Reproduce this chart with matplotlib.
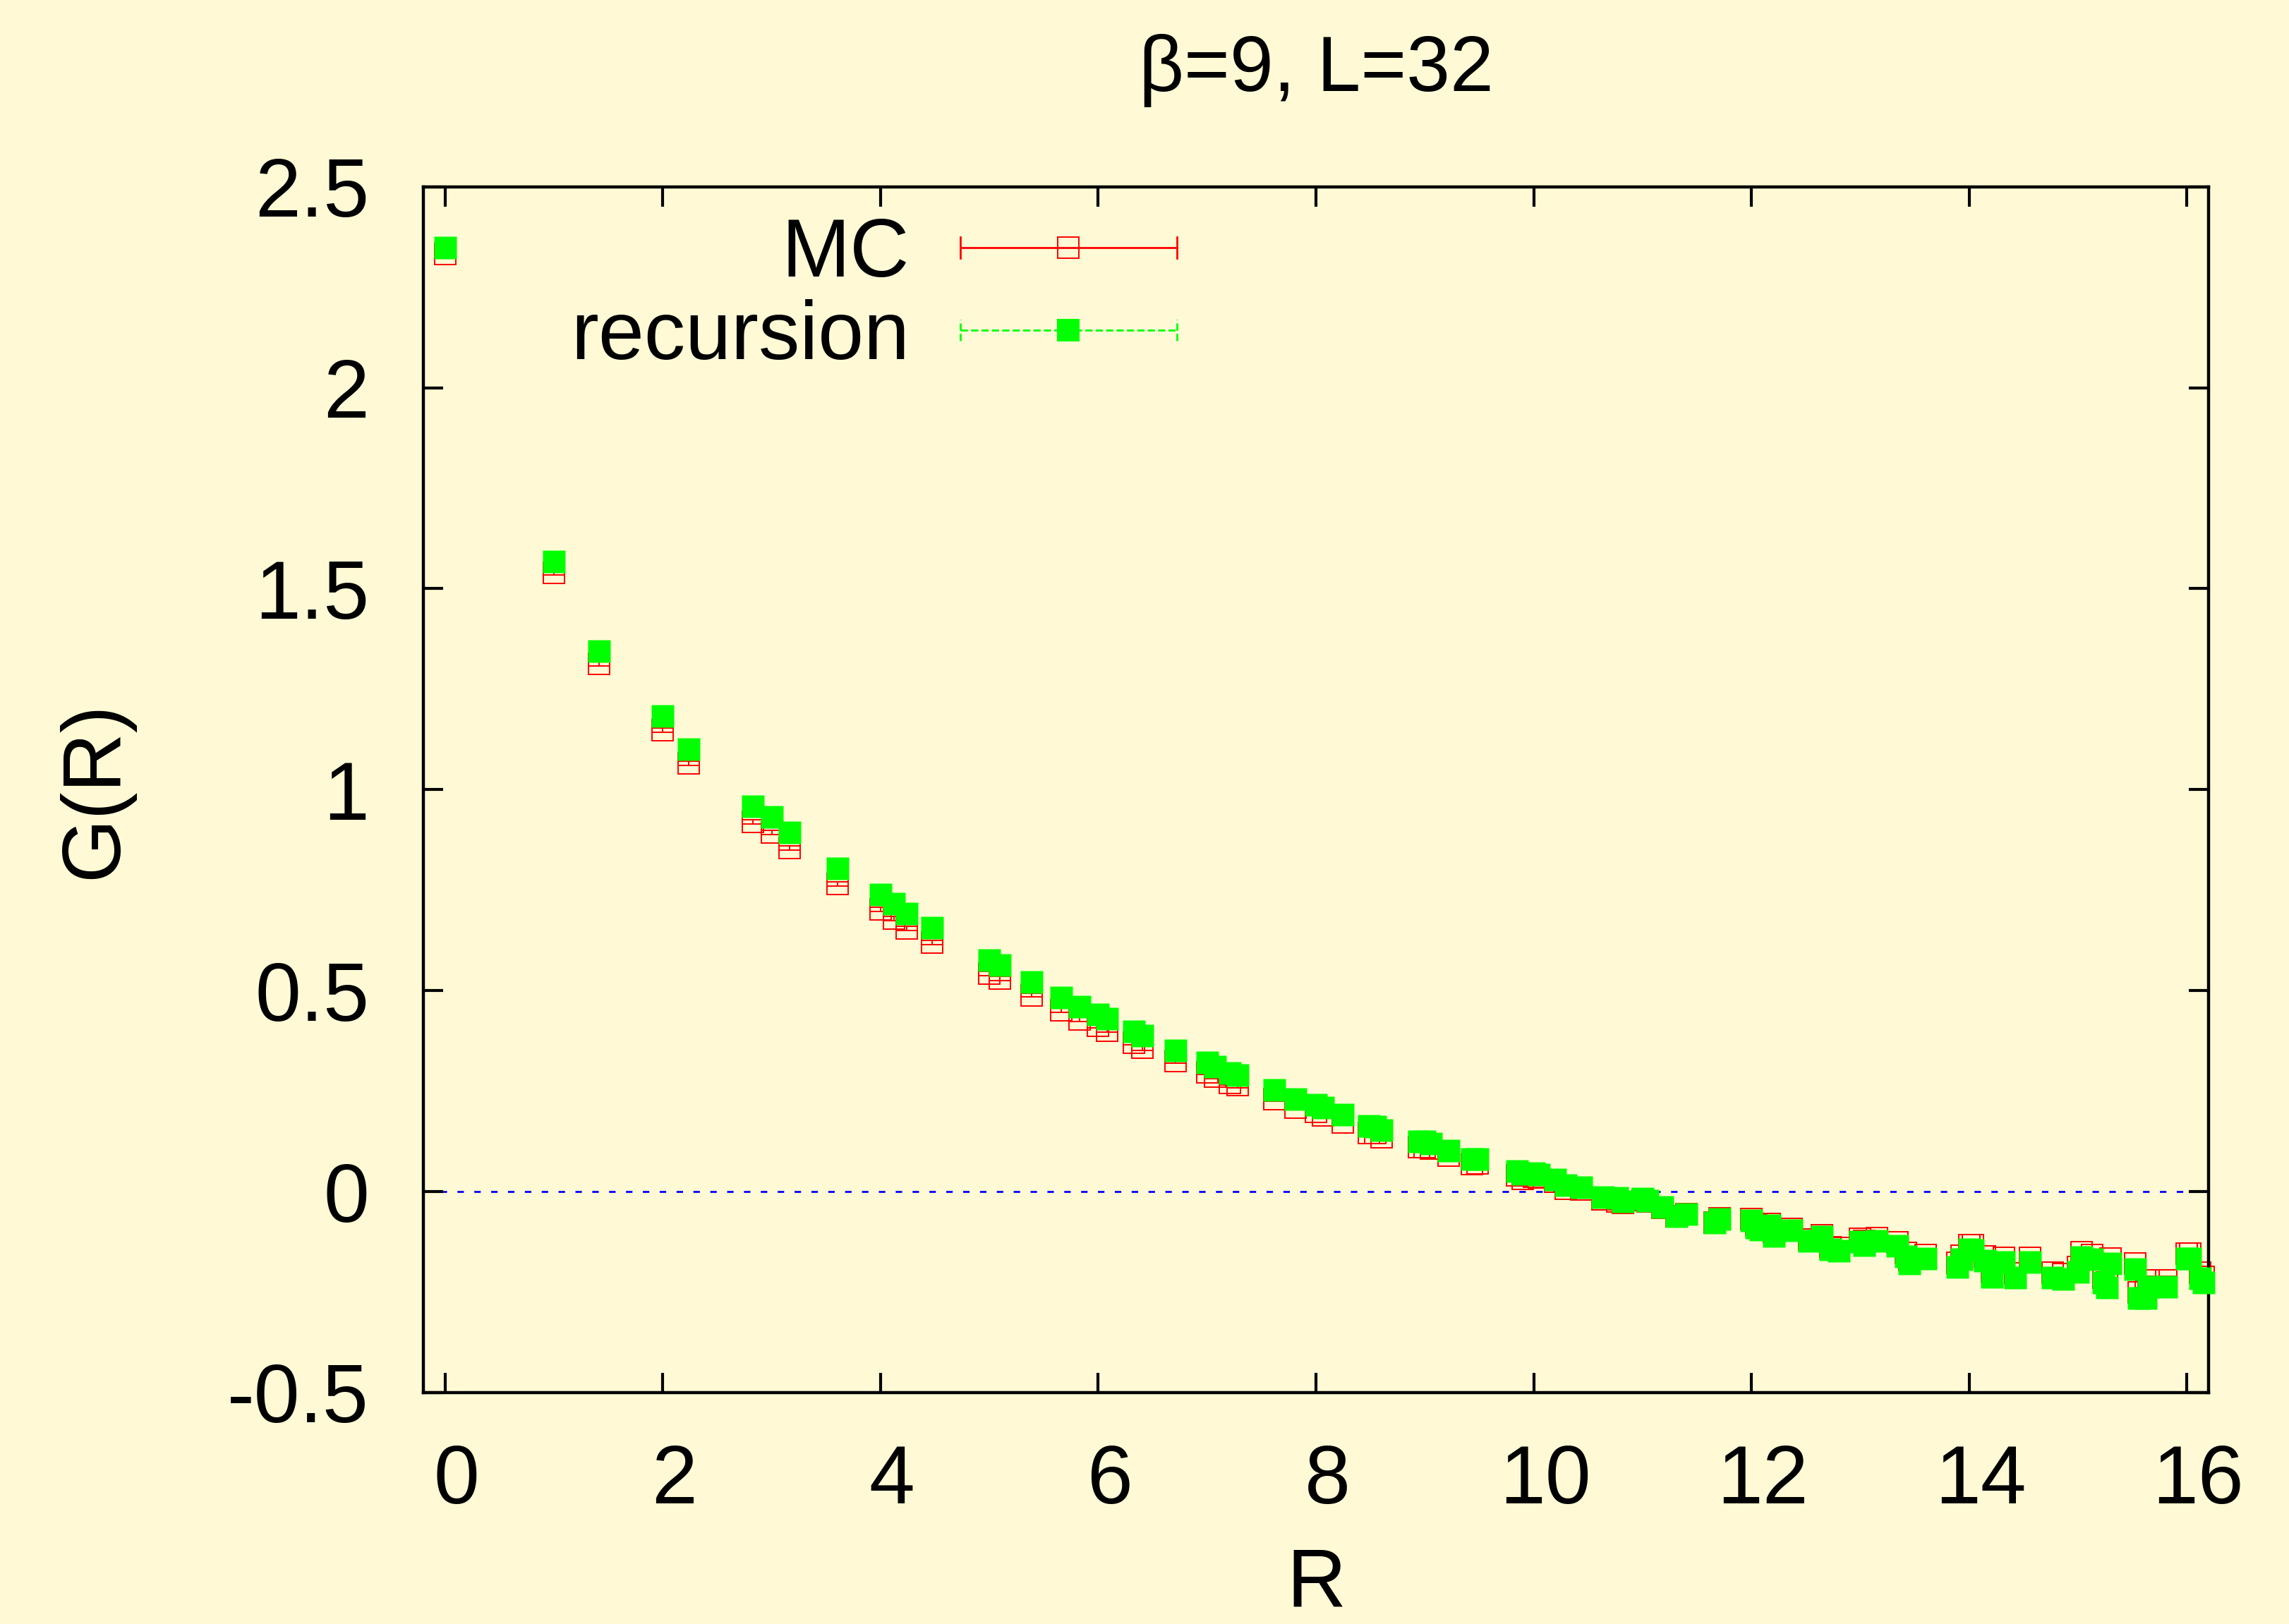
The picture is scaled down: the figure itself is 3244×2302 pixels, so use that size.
import matplotlib
matplotlib.use("Agg")
import matplotlib.pyplot as plt
from matplotlib.lines import Line2D
from matplotlib.legend_handler import HandlerBase
from matplotlib.transforms import ScaledTranslation

# datos: distancia R, G(R) de MC (con error) y de la recursion
R = [0.0, 1.0, 1.414, 2.0, 2.236, 2.828, 3.0, 3.162, 3.606, 4.0,
     4.123, 4.243, 4.472, 5.0, 5.099, 5.385, 5.657, 5.831, 6.0, 6.083,
     6.325, 6.403, 6.708, 7.0, 7.071, 7.211, 7.280, 7.616, 7.810, 8.0,
     8.062, 8.246, 8.485, 8.544, 8.602, 8.944, 9.0, 9.055, 9.220, 9.434,
     9.487, 9.849, 9.899, 10.0, 10.050, 10.198, 10.296, 10.440, 10.630, 10.770,
     10.817, 11.0, 11.045, 11.180, 11.314, 11.402, 11.662, 11.705, 12.0, 12.042,
     12.083, 12.166, 12.207, 12.369, 12.530, 12.649, 12.728, 12.806, 13.0, 13.038,
     13.153, 13.342, 13.416, 13.454, 13.601, 13.892, 13.928, 14.0, 14.036, 14.142,
     14.213, 14.318, 14.422, 14.560, 14.765, 14.866, 15.0, 15.033, 15.133, 15.232,
     15.264, 15.297, 15.524, 15.556, 15.620, 15.652, 15.811, 16.0, 16.031, 16.125,
     16.155]

G_mc = [2.333, 1.540, 1.313, 1.148, 1.065, 0.920, 0.894, 0.855, 0.766, 0.702,
        0.680, 0.655, 0.620, 0.543, 0.530, 0.489, 0.451, 0.429, 0.413, 0.401,
        0.371, 0.358, 0.325, 0.297, 0.287, 0.271, 0.265, 0.230, 0.209, 0.199,
        0.189, 0.173, 0.146, 0.146, 0.136, 0.110, 0.110, 0.107, 0.089, 0.069,
        0.070, 0.040, 0.032, 0.037, 0.035, 0.024, 0.007, 0.006, -0.019, -0.024,
        -0.028, -0.020, -0.024, -0.040, -0.062, -0.056, -0.077, -0.067, -0.068, -0.082,
        -0.088, -0.080, -0.100, -0.093, -0.119, -0.109, -0.138, -0.141, -0.117, -0.122,
        -0.115, -0.127, -0.153, -0.170, -0.157, -0.177, -0.160, -0.133, -0.134, -0.161,
        -0.200, -0.165, -0.203, -0.165, -0.202, -0.205, -0.187, -0.150, -0.157, -0.214,
        -0.226, -0.166, -0.179, -0.250, -0.249, -0.221, -0.221, -0.154, -0.154, -0.201,
        -0.212]

err_mc = [0.005, 0.005, 0.005, 0.005, 0.005, 0.005, 0.005, 0.005, 0.005, 0.005,
          0.005, 0.005, 0.005, 0.005, 0.005, 0.005, 0.005, 0.005, 0.005, 0.005,
          0.006, 0.006, 0.006, 0.006, 0.006, 0.006, 0.006, 0.006, 0.006, 0.006,
          0.006, 0.006, 0.006, 0.006, 0.006, 0.007, 0.007, 0.007, 0.007, 0.007,
          0.007, 0.007, 0.007, 0.007, 0.007, 0.007, 0.007, 0.007, 0.007, 0.007,
          0.008, 0.008, 0.008, 0.008, 0.008, 0.008, 0.008, 0.008, 0.008, 0.008,
          0.008, 0.008, 0.008, 0.008, 0.008, 0.008, 0.008, 0.008, 0.008, 0.008,
          0.009, 0.009, 0.009, 0.009, 0.009, 0.009, 0.009, 0.009, 0.009, 0.009,
          0.009, 0.009, 0.009, 0.009, 0.009, 0.009, 0.009, 0.009, 0.009, 0.009,
          0.010, 0.010, 0.010, 0.010, 0.010, 0.010, 0.010, 0.010, 0.010, 0.010,
          0.010]

G_rec = [2.348, 1.567, 1.345, 1.184, 1.101, 0.959, 0.932, 0.894, 0.804, 0.739,
         0.716, 0.692, 0.657, 0.576, 0.564, 0.521, 0.483, 0.460, 0.441, 0.430,
         0.399, 0.388, 0.351, 0.321, 0.311, 0.295, 0.290, 0.253, 0.230, 0.216,
         0.209, 0.191, 0.163, 0.162, 0.153, 0.125, 0.124, 0.119, 0.102, 0.081,
         0.081, 0.051, 0.044, 0.046, 0.042, 0.030, 0.016, 0.011, -0.014, -0.016,
         -0.024, -0.018, -0.022, -0.038, -0.061, -0.056, -0.077, -0.068, -0.072, -0.089,
         -0.094, -0.084, -0.110, -0.096, -0.122, -0.113, -0.143, -0.147, -0.124, -0.134,
         -0.122, -0.135, -0.162, -0.179, -0.166, -0.188, -0.169, -0.144, -0.146, -0.172,
         -0.212, -0.176, -0.214, -0.176, -0.214, -0.217, -0.200, -0.163, -0.168, -0.226,
         -0.238, -0.179, -0.193, -0.265, -0.265, -0.236, -0.236, -0.166, -0.167, -0.215,
         -0.226]

x_ticks = [0, 2, 4, 6, 8, 10, 12, 14, 16]
y_ticks = [-0.5, 0, 0.5, 1, 1.5, 2, 2.5]
y_tick_labels = ["-0.5", "0", "0.5", "1", "1.5", "2", "2.5"]

fondo = "#fffad5"
verde = "#00ff00"


class HandlerBarra(HandlerBase):
    # muestra de leyenda al estilo gnuplot: barra horizontal con topes y simbolo al centro
    def create_artists(self, legend, orig_handle, xdescent, ydescent,
                       width, height, fontsize, trans):
        color = orig_handle.get_color()
        ls = orig_handle.get_linestyle()
        lw = orig_handle.get_linewidth()
        y = height / 2 - ydescent
        x0 = -xdescent
        x1 = width - xdescent
        c = 5.4
        linea = Line2D([x0, x1], [y, y], color=color, ls=ls, lw=lw)
        tope1 = Line2D([x0, x0], [y - c, y + c], color=color, ls=ls, lw=lw)
        tope2 = Line2D([x1, x1], [y - c, y + c], color=color, ls=ls, lw=lw)
        marca = Line2D([(x0 + x1) / 2], [y], ls="none", marker="s",
                       ms=orig_handle.get_markersize(),
                       mfc=orig_handle.get_markerfacecolor(),
                       mec=orig_handle.get_markeredgecolor(),
                       mew=orig_handle.get_markeredgewidth())
        artistas = [linea, tope1, tope2, marca]
        for a in artistas:
            a.set_transform(trans)
        return artistas


plt.rcParams["font.family"] = ["Liberation Sans", "DejaVu Sans"]
plt.rcParams["font.size"] = 42
plt.rcParams["axes.unicode_minus"] = False

fig = plt.figure(figsize=(16.22, 11.51), dpi=200, facecolor=fondo)
ax = fig.add_axes([0.18496, 0.14249, 0.77990, 0.74251])
ax.set_facecolor(fondo)

ax.axhline(0, color="blue", lw=1.0, ls=(0, (3.3, 5.3)), zorder=1)

cont = ax.errorbar(R, G_mc, yerr=err_mc, fmt="s", ms=11.0, mfc="none",
                   mec="red", mew=0.7, ecolor="red", elinewidth=0.7,
                   capsize=5.6, capthick=0.7, zorder=2)
for art in cont.get_children():
    art.set_clip_on(False)

ax.plot(R, G_rec, "s", ms=11.2, color=verde, mec="none", zorder=3, clip_on=False)

ax.set_xlim(-0.2, 16.2)
ax.set_ylim(-0.5, 2.5)
ax.set_xticks(x_ticks)
ax.set_yticks(y_ticks)
ax.set_yticklabels(y_tick_labels)

ax.tick_params(direction="in", length=10, width=1.5, top=True, right=True)
ax.tick_params(axis="x", pad=26)
ax.tick_params(axis="y", pad=27.7)
for s in ax.spines.values():
    s.set_linewidth(1.6)

# el titulo del original es algo mas estrecho que el resto del texto
ax.set_title("β=9, L=32", pad=49, fontsize=40)
ax.set_xlabel("R", va="top")
ax.xaxis.set_label_coords(0.5, -0.127)
ax.set_ylabel("G(R)", va="center")
ax.yaxis.set_label_coords(-0.1838, 0.5)

h_mc = Line2D([], [], color="red", lw=1.0, ls="-", marker="s", ms=11.0,
              mfc="none", mec="red", mew=0.7)
h_rec = Line2D([], [], color=verde, lw=1.0, ls=(0, (7.5, 4)), marker="s",
               ms=11.2, mfc=verde, mec=verde, mew=0)
ax.legend(handles=[h_mc, h_rec], labels=["MC", "recursion"],
          handler_map={Line2D: HandlerBarra()}, markerfirst=False,
          frameon=False, loc="center right", bbox_to_anchor=(0.422, 0.9093),
          handlelength=2.63, handletextpad=0.62, labelspacing=0.07,
          borderpad=0, borderaxespad=0)

# gnuplot deja los numeros del eje x un poco a la derecha de cada marca
desplaza = ScaledTranslation(5.8 / 72, 0, fig.dpi_scale_trans)
for lbl in ax.get_xticklabels():
    lbl.set_transform(lbl.get_transform() + desplaza)

fig.savefig("out.png", dpi=200, facecolor=fondo)
